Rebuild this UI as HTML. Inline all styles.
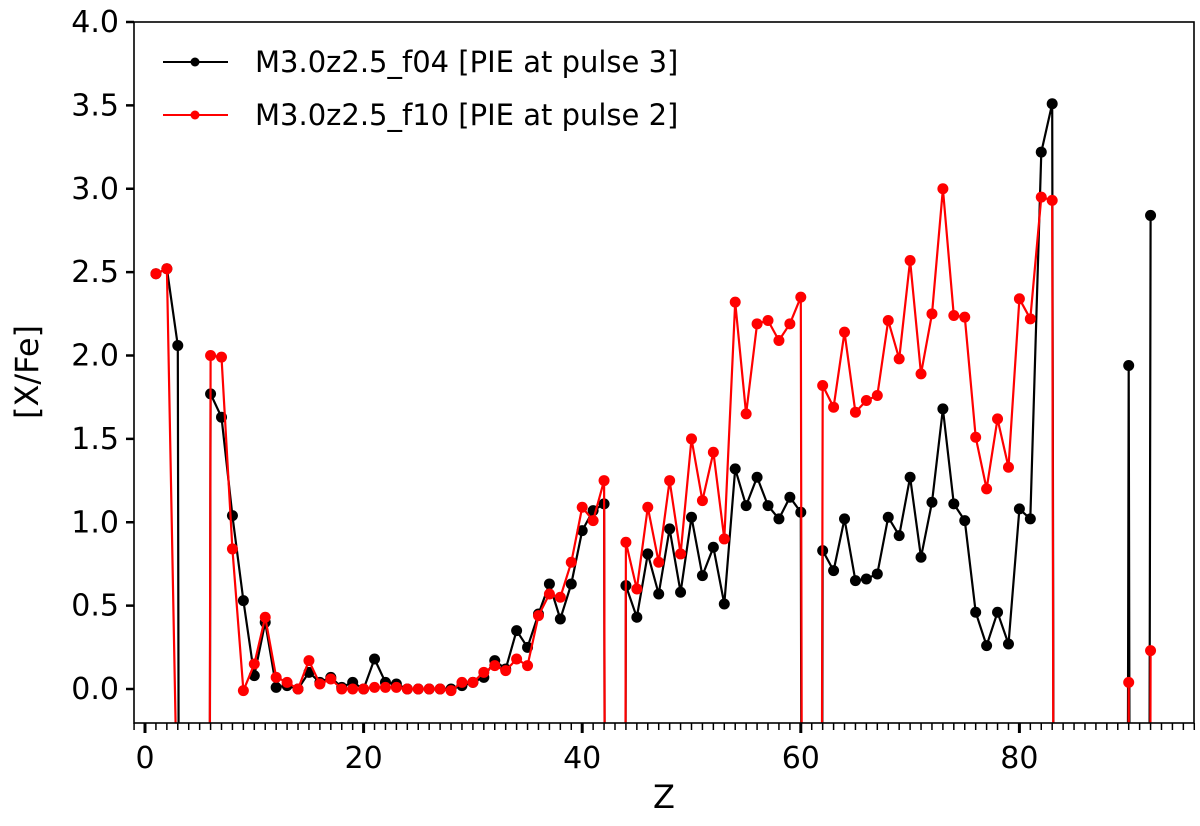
<!DOCTYPE html>
<html><head><meta charset="utf-8"><style>
html,body{margin:0;padding:0;background:#fff;overflow:hidden;width:1200px;height:826px;}
svg{display:block;font-family:"DejaVu Sans","Liberation Sans",sans-serif;}
</style></head><body>
<svg id="chart" width="1200" height="826" viewBox="0 0 1200 826" xmlns="http://www.w3.org/2000/svg">
<defs><clipPath id="clip"><rect x="134" y="22" width="1060" height="701"/></clipPath></defs>
<g id="series" clip-path="url(#clip)"></g>
<rect x="134" y="22" width="1060" height="701" fill="none" stroke="#000" stroke-width="1.6"/>
<g id="axes"></g>
<text x="664" y="808" font-size="32" text-anchor="middle">Z</text>
<text transform="translate(38,372) rotate(-90)" font-size="32" text-anchor="middle">[X/Fe]</text>
<g>
  <line x1="163" y1="62" x2="228" y2="62" stroke="#000" stroke-width="2"/>
  <circle cx="195" cy="62" r="4.5" fill="#000"/>
  <text x="255" y="72" font-size="29">M3.0z2.5_f04 [PIE at pulse 3]</text>
  <line x1="163" y1="115" x2="228" y2="115" stroke="#f00" stroke-width="2"/>
  <circle cx="195" cy="115" r="4.5" fill="#f00"/>
  <text x="255" y="125" font-size="29">M3.0z2.5_f10 [PIE at pulse 2]</text>
</g>
</svg>
<script>
const zValues = [1,2,3,4,5,6,7,8,9,10,11,12,13,14,15,16,17,18,19,20,21,22,23,24,25,26,27,28,29,30,31,32,33,34,35,36,37,38,39,40,41,42,43,44,45,46,47,48,49,50,51,52,53,54,55,56,57,58,59,60,61,62,63,64,65,66,67,68,69,70,71,72,73,74,75,76,77,78,79,80,81,82,83,84,85,86,87,88,89,90,91,92];
const seriesF04 = [2.49,2.52,2.06,-30,-30,1.77,1.63,1.04,0.53,0.08,0.40,0.01,0.02,0.0,0.10,0.04,0.07,0.01,0.04,0.0,0.18,0.04,0.03,0.0,0.0,0.0,0.0,0.0,0.02,0.04,0.07,0.17,0.12,0.35,0.25,0.45,0.63,0.42,0.63,0.95,1.07,1.11,-30,0.62,0.43,0.81,0.57,0.96,0.58,1.03,0.68,0.85,0.51,1.32,1.10,1.27,1.10,1.02,1.15,1.06,-30,0.83,0.71,1.02,0.65,0.66,0.69,1.03,0.92,1.27,0.79,1.12,1.68,1.11,1.01,0.46,0.26,0.46,0.27,1.08,1.02,3.22,3.51,-30,-30,-30,-30,-30,-30,1.94,-30,2.84];
const seriesF10 = [2.49,2.52,-0.9,-30,-30,2.00,1.99,0.84,-0.01,0.15,0.43,0.07,0.04,0.0,0.17,0.03,0.06,0.0,0.0,0.0,0.01,0.01,0.01,0.0,0.0,0.0,0.0,-0.01,0.04,0.04,0.10,0.14,0.11,0.18,0.14,0.44,0.57,0.55,0.76,1.09,1.01,1.25,-30,0.88,0.60,1.09,0.76,1.25,0.81,1.50,1.13,1.42,0.90,2.32,1.65,2.19,2.21,2.09,2.19,2.35,-30,1.82,1.69,2.14,1.66,1.73,1.76,2.21,1.98,2.57,1.89,2.25,3.00,2.24,2.23,1.51,1.20,1.62,1.33,2.34,2.22,2.95,2.93,-30,-30,-30,-30,-30,-30,0.04,-30,0.23];
const yTickLabels = ["0.0","0.5","1.0","1.5","2.0","2.5","3.0","3.5","4.0"];
const xTickLabels = ["0","20","40","60","80"];

const NS="http://www.w3.org/2000/svg";
const X0=145, XS=10.93, Y0=689, YS=166.75;
const sx=z=>X0+z*XS, sy=v=>Y0-v*YS;
const axes=document.getElementById('axes'), ser=document.getElementById('series');
function mk(tag,attrs,parent){const e=document.createElementNS(NS,tag);for(const k in attrs)e.setAttribute(k,attrs[k]);parent.appendChild(e);return e;}

yTickLabels.forEach(l=>{
  const y=sy(parseFloat(l));
  const t=mk('line',{x1:126,x2:134,y1:y,y2:y,stroke:'#000','stroke-width':2.5},axes);
  
  
  const tx=mk('text',{x:119,y:y+10,'font-size':30,'text-anchor':'end'},axes);
  
  
  tx.textContent=l;
});
for(let z=-1;z<=96;z++){
  const major=z%20===0;
  const t=mk('line',{x1:sx(z),x2:sx(z),y1:723,y2:major?733:730,stroke:'#000','stroke-width':major?3:1.5},axes);
  
  
}
xTickLabels.forEach(l=>{
  const tx=mk('text',{x:sx(parseFloat(l)),y:768,'font-size':30,'text-anchor':'middle'},axes);
  
  
  tx.textContent=l;
});

function drawSeries(vals,color,name){
  const pts=zValues.map((z,i)=>sx(z).toFixed(1)+','+sy(vals[i]).toFixed(1)).join(' ');
  const pl=mk('polyline',{points:pts,fill:'none',stroke:color,'stroke-width':2.2,'stroke-linejoin':'round'},ser);
  
  
  zValues.forEach((z,i)=>{
    if(vals[i]<-0.2)return;
    const c=mk('circle',{cx:sx(z),cy:sy(vals[i]),r:5.5,fill:color},ser);
    
    
  });
}
drawSeries(seriesF04,'#000','series-f04');
drawSeries(seriesF10,'#f00','series-f10');
</script>
</body></html>
